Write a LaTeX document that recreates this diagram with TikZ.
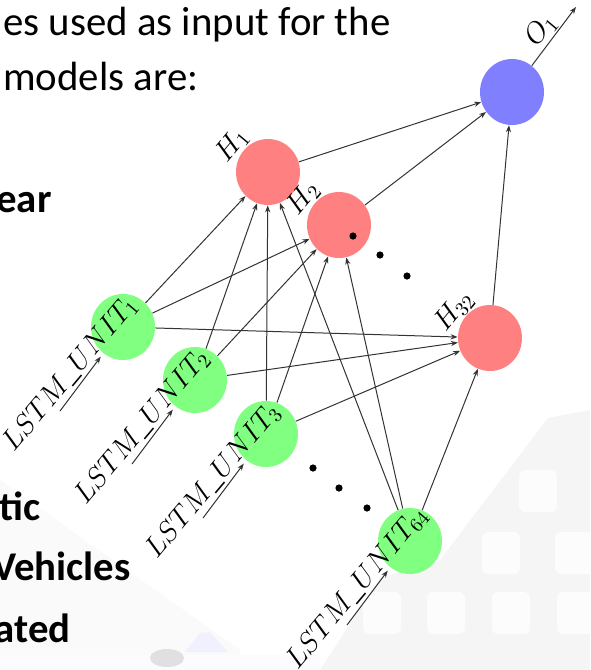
\documentclass[tikz,border=0pt]{standalone}
\usepackage{fontspec}
\setmainfont{Carlito}
\usetikzlibrary{arrows.meta,calc,shapes.geometric}
\tikzset{
  neuron/.style={ellipse, minimum width=32pt, minimum height=33pt, inner sep=0pt},
  hidden/.style={neuron, fill=red!50},
  unit/.style={neuron, fill=green!50},
  outunit/.style={neuron, fill=blue!50},
  conn/.style={-{Stealth[length=3.5pt,width=2.6pt]}, line width=0.5pt, black!80},
  netlabel/.style={rotate=50, inner sep=0pt, font=\Large},
  bigdot/.style={circle, fill=black, inner sep=0pt, minimum size=3.6pt},
  slidetext/.style={inner sep=0pt, font=\fontsize{20.4}{24}\selectfont},
  slidebold/.style={inner sep=0pt, font=\fontsize{20.4}{24}\selectfont\bfseries}
}

\begin{document}
\begin{tikzpicture}[x=0.5pt, y=-0.5pt]
  \useasboundingbox (0,0) rectangle (590,670);
  \clip (0,0) rectangle (590,670);
  \fill[white] (0,0) rectangle (590,670);

  % Faint slide background
  \fill[black!2] (0,480) -- (240,650) -- (240,670) -- (0,670) -- cycle;
  \fill[black!4] (320,670) -- (380,578) -- (440,560) -- (548,418) -- (590,410) -- (590,670) -- cycle;
  \foreach \x/\y in {519/470, 482/532, 555/532, 363/592, 427/592, 492/592, 557/592} {
    \fill[black!1, rounded corners=3pt] (\x,\y) rectangle ++(38,42);
  }
  \fill[blue!1] (0,655) rectangle (320,670);
  \fill[blue!6] (185,652) -- (200,633) -- (210,632) -- (228,652) -- cycle;
  \fill[black!12] (167,658) ellipse [x radius=17, y radius=9];

  % Slide text
  \node[slidetext, anchor=base west] (intro1) at (3,35) {es used as input for the};
  \node[slidetext, anchor=base west] (intro2) at (3,90) {models are:};
  \node[slidebold, anchor=base east] (item1) at (52,212) {ear};
  \node[slidebold, anchor=base east] (item2) at (41,520) {tic};
  \node[slidebold, anchor=base east] (item3) at (131,580) {Vehicles};
  \node[slidebold, anchor=base east] (item4) at (71,642) {ated};

  % Network nodes
  \node[outunit] (out) at (512,92) {};
  \node[hidden] (h1) at (268,172) {};
  \node[hidden] (h2) at (339,225) {};
  \node[hidden] (h32) at (490,338) {};
  \node[unit] (u1) at (123,327) {};
  \node[unit] (u2) at (195,380) {};
  \node[unit] (u3) at (266,434) {};
  \node[unit] (u64) at (410,541) {};

  % Connections
  \foreach \u in {u1,u2,u3,u64} {
    \foreach \h in {h1,h2,h32} {
      \draw[conn] (\u) -- (\h);
    }
  }
  \foreach \h in {h1,h2,h32} {
    \draw[conn] (\h) -- (out);
  }

  % Inputs and output
  \foreach \u/\t in {u1/1, u2/2, u3/3, u64/64} {
    \coordinate (in\t) at ($(\u)+(-63,84)$);
    \draw[conn, shorten >=2pt] (in\t) -- (\u);
    \node[netlabel] (lab\u) at ($(\u)+(-53,47)$) {$LSTM\_UNIT_{\t}$};
  }
  \coordinate (o1end) at ($(out)+(64,-85)$);
  \draw[conn] (out) -- (o1end);
  \node[netlabel] (labo1) at ($(out)+(29,-62)$) {$O_1$};

  \foreach \h/\t in {h1/1, h2/2, h32/32} {
    \node[netlabel] (lab\h) at ($(\h)+(-36,-27)$) {$H_{\t}$};
  }

  % Ellipsis dots
  \foreach \p [count=\i] in {(353,236), (380,255), (407,276), (313,468), (339,488), (367,508)} {
    \node[bigdot] (dot\i) at \p {};
  }
\end{tikzpicture}
\end{document}
